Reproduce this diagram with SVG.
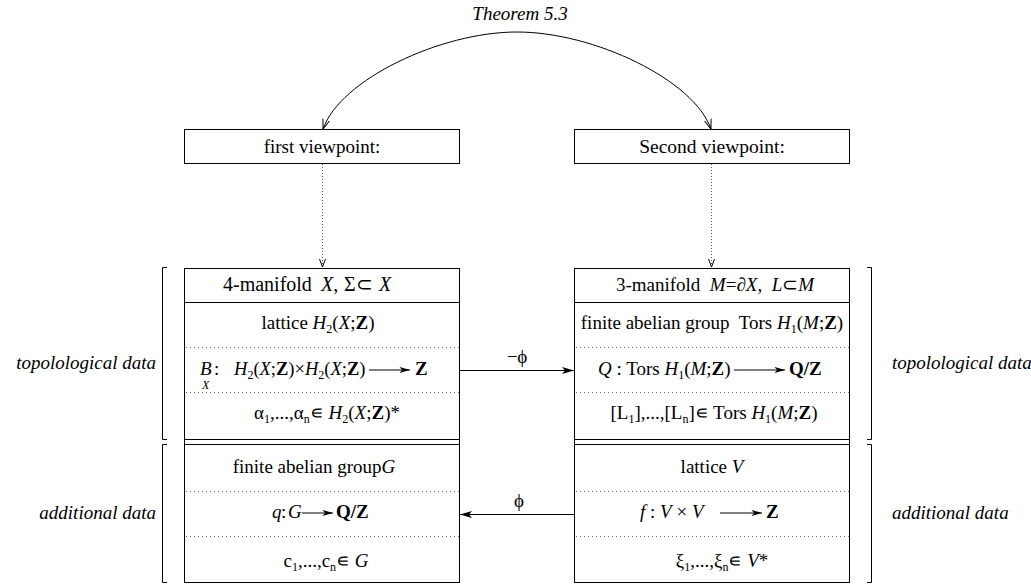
<svg xmlns="http://www.w3.org/2000/svg" width="1031" height="584" viewBox="0 0 1031 584">
<defs>
<style>
.t{font-family:"Liberation Serif","Times New Roman",serif;font-size:19px;fill:#000}
.i{font-style:italic}
.b{font-weight:bold}
.s{font-size:12px}
.box{fill:#fff;stroke:#000;stroke-width:1}
.ln{stroke:#000;stroke-width:1;fill:none}
.dot{stroke:#666;stroke-width:1;stroke-dasharray:1 3;fill:none}
.con{stroke:#000;stroke-width:1;fill:none}
.vdot{stroke:#555;stroke-width:1;stroke-dasharray:1 2;fill:none}
</style>
<marker id="open" viewBox="0 0 10 10" refX="10" refY="5" markerWidth="10" markerHeight="10" markerUnits="userSpaceOnUse" orient="auto-start-reverse"><path d="M0,1.5 L10,5 L0,8.5" fill="none" stroke="#000" stroke-width="1"/></marker>
<marker id="vopen" viewBox="0 0 8 8" refX="8" refY="4" markerWidth="8" markerHeight="8" markerUnits="userSpaceOnUse" orient="auto"><path d="M0,1 L8,4 L0,7" fill="none" stroke="#000" stroke-width="1"/></marker>
<marker id="fill" viewBox="0 0 12 8" refX="12" refY="4" markerWidth="12" markerHeight="8" markerUnits="userSpaceOnUse" orient="auto"><path d="M0,0.5 L12,4 L0,7.5 L3,4 Z" fill="#000"/></marker>
<marker id="tfill" viewBox="0 0 12 8" refX="12" refY="4" markerWidth="12" markerHeight="7" markerUnits="userSpaceOnUse" orient="auto"><path d="M0,0.5 L12,4 L0,7.5 L3,4 Z" fill="#000"/></marker>
</defs>
<rect width="1031" height="584" fill="#fff"/>

<text class="t i" x="520" y="20" text-anchor="middle">Theorem 5.3</text>

<g id="first-viewpoint">
<rect class="box" x="184.5" y="129.5" width="275" height="34"/>
<text class="t" x="322" y="153" text-anchor="middle">first viewpoint:</text>
</g>
<g id="second-viewpoint">
<rect class="box" x="574.5" y="129.5" width="275" height="34"/>
<text class="t" x="712" y="153" text-anchor="middle" style="font-size:19.5px">Second viewpoint:</text>
</g>

<g id="left-data">
<rect class="box" x="184.5" y="268.5" width="275" height="314"/>
<line class="ln" x1="184.5" y1="302.5" x2="459.5" y2="302.5"/>
<line class="dot" x1="186" y1="347.5" x2="459" y2="347.5"/>
<line class="dot" x1="186" y1="392.5" x2="459" y2="392.5"/>
<line class="ln" x1="184.5" y1="439.5" x2="459.5" y2="439.5"/>
<line class="ln" x1="184.5" y1="444.5" x2="459.5" y2="444.5"/>
<line class="dot" x1="186" y1="491.5" x2="459" y2="491.5"/>
<line class="dot" x1="186" y1="536.5" x2="459" y2="536.5"/>
<text class="t" y="291" style="font-size:20px"><tspan x="223">4-manifold</tspan><tspan class="i" x="321">X</tspan><tspan>,</tspan><tspan x="344">Σ⊂</tspan><tspan class="i" x="379">X</tspan></text>
<text class="t" x="318" y="329" text-anchor="middle">lattice <tspan class="i">H</tspan><tspan class="s" dy="4">2</tspan><tspan dy="-4">(</tspan><tspan class="i">X</tspan>;<tspan class="b">Z</tspan>)</text>
<text class="t i" x="200" y="375">B</text>
<text class="t i s" x="202" y="389">X</text>
<text class="t" x="214" y="375">:</text>
<text class="t" x="234" y="375" style="font-size:18.5px"><tspan class="i">H</tspan><tspan class="s" dy="4">2</tspan><tspan dy="-4">(</tspan><tspan class="i">X</tspan>;<tspan class="b">Z</tspan>)×<tspan class="i">H</tspan><tspan class="s" dy="4">2</tspan><tspan dy="-4">(</tspan><tspan class="i">X</tspan>;<tspan class="b">Z</tspan>)</text>
<line class="ln" x1="369" y1="370" x2="410" y2="370" marker-end="url(#tfill)"/>
<text class="t b" x="415" y="375">Z</text>
<text class="t" x="327" y="419" text-anchor="middle">α<tspan class="s" dy="4">1</tspan><tspan dy="-4">,...,α</tspan><tspan class="s" dy="4">n</tspan><tspan dy="-4">∊ </tspan><tspan class="i">H</tspan><tspan class="s" dy="4">2</tspan><tspan dy="-4">(</tspan><tspan class="i">X</tspan>;<tspan class="b">Z</tspan>)*</text>
<text class="t" x="314" y="473" text-anchor="middle">finite abelian group<tspan class="i">G</tspan></text>
<text class="t i" x="272" y="518">q</text>
<text class="t" x="281" y="518">:</text>
<text class="t i" x="288" y="518">G</text>
<line class="ln" x1="302" y1="513" x2="333" y2="513" marker-end="url(#tfill)"/>
<text class="t b" x="336" y="518">Q/Z</text>
<text class="t" x="326" y="567" text-anchor="middle">c<tspan class="s" dy="4">1</tspan><tspan dy="-4">,...,c</tspan><tspan class="s" dy="4">n</tspan><tspan dy="-4">∊ </tspan><tspan class="i">G</tspan></text>
</g>

<g id="right-data">
<rect class="box" x="574.5" y="268.5" width="275" height="314"/>
<line class="ln" x1="574.5" y1="302.5" x2="849.5" y2="302.5"/>
<line class="dot" x1="576" y1="347.5" x2="849" y2="347.5"/>
<line class="dot" x1="576" y1="392.5" x2="849" y2="392.5"/>
<line class="ln" x1="574.5" y1="439.5" x2="849.5" y2="439.5"/>
<line class="ln" x1="574.5" y1="444.5" x2="849.5" y2="444.5"/>
<line class="dot" x1="576" y1="491.5" x2="849" y2="491.5"/>
<line class="dot" x1="576" y1="536.5" x2="849" y2="536.5"/>
<text class="t" x="715" y="291" text-anchor="middle" xml:space="preserve">3-manifold  <tspan class="i">M</tspan>=∂<tspan class="i">X</tspan>,  <tspan class="i">L</tspan>⊂<tspan class="i">M</tspan></text>
<text class="t" x="712" y="329" text-anchor="middle" xml:space="preserve">finite abelian group  Tors <tspan class="i">H</tspan><tspan class="s" dy="4">1</tspan><tspan dy="-4">(</tspan><tspan class="i">M</tspan>;<tspan class="b">Z</tspan>)</text>
<text class="t" x="598" y="375"><tspan class="i">Q</tspan> : Tors <tspan class="i">H</tspan><tspan class="s" dy="4">1</tspan><tspan dy="-4">(</tspan><tspan class="i">M</tspan>;<tspan class="b">Z</tspan>)</text>
<line class="ln" x1="734" y1="370" x2="785" y2="370" marker-end="url(#tfill)"/>
<text class="t b" x="789" y="375">Q/Z</text>
<text class="t" x="714" y="419" text-anchor="middle">[L<tspan class="s" dy="4">1</tspan><tspan dy="-4">],...,[L</tspan><tspan class="s" dy="4">n</tspan><tspan dy="-4">]∊ Tors </tspan><tspan class="i">H</tspan><tspan class="s" dy="4">1</tspan><tspan dy="-4">(</tspan><tspan class="i">M</tspan>;<tspan class="b">Z</tspan>)</text>
<text class="t" x="712" y="473" text-anchor="middle">lattice <tspan class="i">V</tspan></text>
<text class="t" x="640" y="518"><tspan class="i">f</tspan> : <tspan class="i">V</tspan> × <tspan class="i">V</tspan></text>
<line class="ln" x1="720" y1="513" x2="762" y2="513" marker-end="url(#tfill)"/>
<text class="t b" x="766" y="518">Z</text>
<text class="t" x="722" y="567" text-anchor="middle">ξ<tspan class="s" dy="4">1</tspan><tspan dy="-4">,...,ξ</tspan><tspan class="s" dy="4">n</tspan><tspan dy="-4">∊ </tspan><tspan class="i">V</tspan>*</text>
</g>

<g id="left-labels">
<path class="ln" d="M167,267.5 H162.5 V439.5 H167"/>
<path class="ln" d="M167,444.5 H162.5 V582.5 H167"/>
<text class="t i" x="156" y="369" text-anchor="end">topolological data</text>
<text class="t i" x="156" y="519" text-anchor="end">additional data</text>
</g>
<g id="right-labels">
<path class="ln" d="M867,267.5 H871.5 V439.5 H867"/>
<path class="ln" d="M867,444.5 H871.5 V582.5 H867"/>
<text class="t i" x="892" y="369">topolological data</text>
<text class="t i" x="892" y="519">additional data</text>
</g>

<g id="connectors">
<path class="con" d="M323,129 C340,80 440,32 517,32 C594,32 694,80 711,129" marker-start="url(#open)" marker-end="url(#open)"/>
<line class="vdot" x1="322.5" y1="164" x2="322.5" y2="267" marker-end="url(#vopen)"/>
<line class="vdot" x1="711.5" y1="164" x2="711.5" y2="267" marker-end="url(#vopen)"/>
<line class="con" x1="460" y1="370.5" x2="574" y2="370.5" marker-end="url(#fill)"/>
<text class="t" x="517" y="363" text-anchor="middle">−ϕ</text>
<line class="con" x1="574" y1="514.5" x2="460" y2="514.5" marker-end="url(#fill)"/>
<text class="t" x="519" y="507" text-anchor="middle">ϕ</text>
</g>
</svg>
